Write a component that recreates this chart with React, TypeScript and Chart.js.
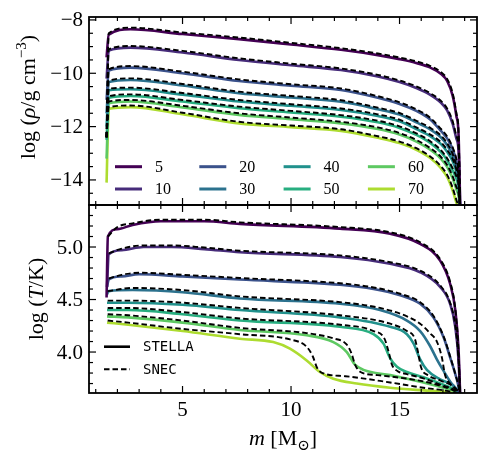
import React, { useEffect, useRef } from 'react';
import { Chart, registerables } from 'chart.js';
Chart.register(...registerables);

// ---------- data ----------
const MASSES = ['5', '10', '20', '30', '40', '50', '60', '70'];
const COLORS = ['#440154', '#472c7a', '#3b528b', '#2c728e', '#21918c', '#28ae80', '#5ec962', '#addc30'];

const X_MIN = 0.69;
const X_MAX = 18.57;
const X_TICKS = [5, 10, 15];
const X_MINOR = 1;

const RHO_MIN = -14.94;
const RHO_MAX = -7.89;
const RHO_TICKS = [-14, -12, -10, -8];
const RHO_MINOR = 0.5;

const T_MIN = 3.61;
const T_MAX = 5.4;
const T_TICKS = [4.0, 4.5, 5.0];
const T_MINOR = 0.1;

// density panel: shared mass grid
const RHO_X = [1.5, 1.6, 2.6, 5, 7.6, 10, 12.3, 14.0, 15.0, 15.8, 16.4, 16.9, 17.2, 17.45, 17.62, 17.72, 17.8];

const RHO_STELLA_5 = [-9.4, -8.55, -8.35, -8.53, -8.72, -8.92, -9.12, -9.32, -9.47, -9.62, -9.78, -10.02, -10.3, -10.85, -11.6, -12.3, -15.2];
const RHO_STELLA_10 = [-10.2, -9.15, -9.04, -9.22, -9.5, -9.7, -9.88, -10.12, -10.33, -10.56, -10.8, -11.1, -11.4, -11.9, -12.45, -12.9, -15.2];
const RHO_STELLA_20 = [-11.0, -9.9, -9.79, -10.0, -10.29, -10.47, -10.63, -10.92, -11.15, -11.42, -11.72, -12.15, -12.45, -12.85, -13.3, -13.8, -15.2];
const RHO_STELLA_30 = [-11.5, -10.33, -10.25, -10.46, -10.75, -10.91, -11.07, -11.35, -11.55, -11.85, -12.1, -12.4, -12.7, -13.1, -13.55, -14.0, -15.2];
const RHO_STELLA_40 = [-12.0, -10.64, -10.6, -10.8, -11.06, -11.22, -11.38, -11.6, -11.8, -12.1, -12.35, -12.65, -12.95, -13.3, -13.7, -14.1, -15.2];
const RHO_STELLA_50 = [-12.5, -10.92, -10.85, -11.06, -11.31, -11.47, -11.63, -11.84, -12.05, -12.32, -12.6, -12.95, -13.27, -13.65, -13.95, -14.3, -15.2];
const RHO_STELLA_60 = [-13.2, -11.12, -11.06, -11.28, -11.56, -11.72, -11.88, -12.09, -12.3, -12.57, -12.86, -13.2, -13.52, -13.95, -14.35, -14.6, -15.2];
const RHO_STELLA_70 = [-14.1, -11.33, -11.27, -11.54, -11.88, -12.02, -12.16, -12.42, -12.62, -12.88, -13.17, -13.55, -13.9, -14.4, -14.85, -15.1, -15.3];

const RHO_SNEC_5 = [-12.4, -8.5, -8.29, -8.47, -8.66, -8.86, -9.06, -9.26, -9.41, -9.56, -9.72, -9.95, -10.22, -10.75, -11.5, -12.2, -15.2];
const RHO_SNEC_10 = [-12.4, -9.1, -8.98, -9.16, -9.44, -9.64, -9.82, -10.06, -10.27, -10.5, -10.74, -11.03, -11.33, -11.8, -12.35, -12.8, -15.2];
const RHO_SNEC_20 = [-12.4, -9.85, -9.73, -9.94, -10.23, -10.41, -10.57, -10.86, -11.09, -11.36, -11.66, -12.08, -12.38, -12.78, -13.22, -13.7, -15.2];
const RHO_SNEC_30 = [-12.4, -10.28, -10.19, -10.4, -10.69, -10.85, -11.01, -11.29, -11.49, -11.79, -12.04, -12.33, -12.63, -13.03, -13.48, -13.9, -15.2];
const RHO_SNEC_40 = [-12.4, -10.58, -10.54, -10.74, -11.0, -11.16, -11.32, -11.54, -11.74, -12.04, -12.29, -12.58, -12.88, -13.22, -13.62, -14.0, -15.2];
const RHO_SNEC_50 = [-12.4, -10.86, -10.79, -11.0, -11.25, -11.41, -11.57, -11.78, -11.99, -12.26, -12.54, -12.88, -13.2, -13.57, -13.87, -14.2, -15.2];
const RHO_SNEC_60 = [-12.4, -11.06, -11.0, -11.22, -11.5, -11.66, -11.82, -12.03, -12.24, -12.51, -12.8, -13.13, -13.45, -13.87, -14.27, -14.5, -15.2];
const RHO_SNEC_70 = [-12.4, -11.27, -11.21, -11.48, -11.82, -11.96, -12.1, -12.36, -12.56, -12.82, -13.11, -13.48, -13.82, -14.3, -14.75, -15.0, -15.3];

// temperature panel: [mass, logT] pairs per model
const T_STELLA_5 = [[1.5, 4.52], [1.56, 5.1], [2.0, 5.17], [2.7, 5.21], [4.0, 5.245], [6.0, 5.245], [7.64, 5.22], [12.26, 5.175], [14.57, 5.127], [15.95, 5.03], [16.87, 4.87], [17.33, 4.65], [17.57, 4.40], [17.72, 4.02], [17.8, 3.55]];
const T_STELLA_10 = [[1.52, 4.62], [1.6, 4.93], [2.2, 4.97], [3.2, 5.0], [4.5, 5.0], [6.0, 4.98], [7.64, 4.95], [12.26, 4.905], [14.57, 4.84], [15.95, 4.76], [16.87, 4.62], [17.33, 4.46], [17.57, 4.24], [17.72, 3.92], [17.8, 3.55]];
const T_STELLA_20 = [[1.52, 4.62], [1.6, 4.69], [2.2, 4.72], [3.0, 4.74], [5.0, 4.72], [7.64, 4.69], [12.26, 4.64], [13.8, 4.60], [15.03, 4.54], [15.95, 4.46], [16.56, 4.33], [17.03, 4.14], [17.33, 3.95], [17.57, 3.79], [17.72, 3.67], [17.8, 3.55]];
const T_STELLA_30 = [[1.52, 4.55], [1.6, 4.58], [2.7, 4.59], [5.0, 4.57], [7.64, 4.51], [12.26, 4.46], [14.1, 4.40], [15.34, 4.30], [15.95, 4.2], [16.4, 4.06], [16.72, 3.93], [17.03, 3.82], [17.33, 3.72], [17.64, 3.64], [17.8, 3.58]];
const T_STELLA_40 = [[1.52, 4.47], [2.5, 4.47], [5.0, 4.45], [7.64, 4.40], [12.26, 4.33], [14.57, 4.24], [15.34, 4.17], [15.65, 4.08], [15.95, 3.93], [16.26, 3.83], [16.87, 3.74], [17.49, 3.68], [17.8, 3.6]];
const T_STELLA_50 = [[1.52, 4.40], [2.5, 4.40], [5.0, 4.36], [7.64, 4.30], [12.26, 4.24], [13.8, 4.17], [14.26, 4.08], [14.57, 3.94], [14.88, 3.86], [15.34, 3.81], [16.1, 3.76], [16.87, 3.70], [17.64, 3.63], [17.8, 3.6]];
const T_STELLA_60 = [[1.52, 4.34], [2.5, 4.33], [5.0, 4.28], [7.64, 4.21], [10.72, 4.16], [11.95, 4.095], [12.57, 4.0], [12.95, 3.88], [13.34, 3.83], [14.57, 3.78], [16.1, 3.71], [17.18, 3.65], [17.64, 3.62], [17.8, 3.6]];
const T_STELLA_70 = [[1.52, 4.28], [2.5, 4.26], [5.0, 4.20], [7.64, 4.127], [9.18, 4.095], [9.95, 4.032], [10.72, 3.92], [11.33, 3.81], [11.95, 3.746], [13.03, 3.70], [14.57, 3.66], [16.1, 3.635], [17.18, 3.62], [17.8, 3.6]];

const T_SNEC_5 = [[1.56, 5.1], [2.0, 5.19], [2.7, 5.225], [4.0, 5.26], [6.0, 5.26], [7.64, 5.235], [12.26, 5.19], [14.57, 5.14], [15.95, 5.045], [16.87, 4.885], [17.33, 4.67], [17.57, 4.41], [17.72, 4.0], [17.8, 3.55]];
const T_SNEC_10 = [[1.6, 4.94], [2.2, 4.985], [3.2, 5.015], [4.5, 5.015], [6.0, 4.995], [7.64, 4.965], [12.26, 4.92], [14.57, 4.855], [15.95, 4.775], [16.87, 4.635], [17.33, 4.47], [17.57, 4.25], [17.72, 3.92], [17.8, 3.55]];
const T_SNEC_20 = [[1.6, 4.70], [2.2, 4.735], [3.0, 4.755], [5.0, 4.735], [7.64, 4.705], [12.26, 4.655], [13.8, 4.615], [15.03, 4.555], [15.95, 4.475], [16.56, 4.345], [17.03, 4.15], [17.33, 3.96], [17.57, 3.79], [17.72, 3.67], [17.8, 3.55]];
const T_SNEC_30 = [[1.55, 4.58], [2.7, 4.61], [5.0, 4.59], [7.64, 4.53], [12.26, 4.475], [14.1, 4.42], [15.34, 4.34], [15.95, 4.27], [16.4, 4.18], [16.72, 4.1], [16.95, 3.95], [17.1, 3.78], [17.33, 3.7], [17.64, 3.64], [17.8, 3.6]];
const T_SNEC_40 = [[1.55, 4.49], [2.5, 4.49], [5.0, 4.47], [7.64, 4.42], [12.26, 4.35], [14.57, 4.27], [15.34, 4.2], [15.7, 4.13], [15.85, 4.0], [16.0, 3.85], [16.3, 3.78], [16.87, 3.73], [17.49, 3.67], [17.8, 3.6]];
const T_SNEC_50 = [[1.55, 4.42], [2.5, 4.42], [5.0, 4.38], [7.64, 4.32], [12.26, 4.26], [13.8, 4.2], [14.3, 4.13], [14.5, 4.0], [14.65, 3.88], [14.9, 3.82], [15.34, 3.79], [16.1, 3.75], [16.87, 3.69], [17.64, 3.63], [17.8, 3.6]];
const T_SNEC_60 = [[1.55, 4.36], [2.5, 4.35], [5.0, 4.30], [7.64, 4.23], [10.72, 4.18], [11.95, 4.13], [12.57, 4.07], [12.8, 3.98], [12.95, 3.88], [13.2, 3.81], [14.0, 3.78], [16.1, 3.72], [17.18, 3.66], [17.64, 3.62]];
const T_SNEC_70 = [[1.55, 4.30], [2.5, 4.28], [5.0, 4.22], [7.64, 4.17], [9.95, 4.12], [10.72, 4.05], [11.0, 3.96], [11.2, 3.85], [11.45, 3.80], [12.5, 3.77], [14.57, 3.71], [16.1, 3.66], [17.18, 3.63], [17.8, 3.6]];

const RHO_STELLA = [RHO_STELLA_5, RHO_STELLA_10, RHO_STELLA_20, RHO_STELLA_30, RHO_STELLA_40, RHO_STELLA_50, RHO_STELLA_60, RHO_STELLA_70];
const RHO_SNEC = [RHO_SNEC_5, RHO_SNEC_10, RHO_SNEC_20, RHO_SNEC_30, RHO_SNEC_40, RHO_SNEC_50, RHO_SNEC_60, RHO_SNEC_70];
const T_STELLA = [T_STELLA_5, T_STELLA_10, T_STELLA_20, T_STELLA_30, T_STELLA_40, T_STELLA_50, T_STELLA_60, T_STELLA_70];
const T_SNEC = [T_SNEC_5, T_SNEC_10, T_SNEC_20, T_SNEC_30, T_SNEC_40, T_SNEC_50, T_SNEC_60, T_SNEC_70];

// ---------- drawing helpers ----------
const SERIF = '"Liberation Serif", "DejaVu Serif", serif';
const MONO = '"DejaVu Sans Mono", "Liberation Mono", monospace';
const TICK_SIZE = 21;
const TITLE_SIZE = 22;
const DASH = [5.5, 3];
const DASH_W = 1.9;
const SOLID_W = 2.6;

type Run = { t: string; it?: boolean; sup?: boolean; sub?: boolean };

function drawRich(ctx: CanvasRenderingContext2D, runs: Run[], x: number, y: number, size: number, rotate: boolean) {
  ctx.save();
  ctx.translate(x, y);
  if (rotate) ctx.rotate(-Math.PI / 2);
  const fonts = runs.map(r => `${r.it ? 'italic ' : ''}${r.sup || r.sub ? Math.round(size * 0.7) : size}px ${SERIF}`);
  let total = 0;
  const widths = runs.map((r, i) => {
    ctx.font = fonts[i];
    const w = ctx.measureText(r.t).width;
    total += w;
    return w;
  });
  let cx = -total / 2;
  ctx.textAlign = 'left';
  ctx.textBaseline = 'alphabetic';
  ctx.fillStyle = '#000';
  const base = size * 0.33;
  runs.forEach((r, i) => {
    ctx.font = fonts[i];
    const dy = r.sup ? -size * 0.42 : r.sub ? size * 0.2 : 0;
    ctx.fillText(r.t, cx, base + dy);
    cx += widths[i];
  });
  ctx.restore();
}

function fmtRho(v: number) {
  return v < 0 ? '\u2212' + Math.abs(v).toString() : v.toString();
}

type FrameCfg = {
  yTicks: number[];
  yMinor: number;
  yFmt: (v: number) => string;
  xLabels: boolean;
  yTitle: Run[];
  yTitleX: number;
  yTitleY: number;
  extra?: (ctx: CanvasRenderingContext2D, chart: any) => void;
};

function framePlugin(cfg: FrameCfg) {
  return {
    id: 'frame',
    afterDraw(chart: any) {
      const ctx: CanvasRenderingContext2D = chart.ctx;
      const a = chart.chartArea;
      const xs = chart.scales.x;
      const ys = chart.scales.y;
      ctx.save();
      ctx.strokeStyle = '#000';
      ctx.lineWidth = 1.2;
      const seg = (x1: number, y1: number, x2: number, y2: number) => {
        ctx.beginPath();
        ctx.moveTo(x1, y1);
        ctx.lineTo(x2, y2);
        ctx.stroke();
      };
      for (let k = Math.ceil(xs.min / X_MINOR); k * X_MINOR <= xs.max; k++) {
        const v = k * X_MINOR;
        const major = X_TICKS.some(t => Math.abs(t - v) < 1e-6);
        const len = major ? 7 : 4;
        const p = xs.getPixelForValue(v);
        seg(p, a.bottom, p, a.bottom - len);
        seg(p, a.top, p, a.top + len);
      }
      for (let k = Math.ceil(ys.min / cfg.yMinor - 1e-9); k * cfg.yMinor <= ys.max + 1e-9; k++) {
        const v = k * cfg.yMinor;
        const major = cfg.yTicks.some(t => Math.abs(t - v) < 1e-6);
        const len = major ? 7 : 4;
        const p = ys.getPixelForValue(v);
        seg(a.left, p, a.left + len, p);
        seg(a.right, p, a.right - len, p);
      }
      ctx.lineWidth = 1.8;
      ctx.strokeRect(a.left, a.top, a.right - a.left, a.bottom - a.top);
      ctx.fillStyle = '#000';
      ctx.font = `${TICK_SIZE}px ${SERIF}`;
      ctx.textAlign = 'right';
      ctx.textBaseline = 'middle';
      cfg.yTicks.forEach(t => {
        ctx.fillText(cfg.yFmt(t), a.left - 6, ys.getPixelForValue(t) + 1);
      });
      if (cfg.xLabels) {
        ctx.textAlign = 'center';
        X_TICKS.forEach(t => {
          ctx.fillText(String(t), xs.getPixelForValue(t), a.bottom + 17);
        });
        drawRich(ctx, [{ t: 'm', it: true }, { t: ' [M' }, { t: '\u2299', sub: true }, { t: ']' }], (a.left + a.right) / 2, a.bottom + 45, TITLE_SIZE, false);
      }
      drawRich(ctx, cfg.yTitle, cfg.yTitleX, cfg.yTitleY, TITLE_SIZE, true);
      if (cfg.extra) cfg.extra(ctx, chart);
      ctx.restore();
    },
  };
}

function baseOptions(yMin: number, yMax: number, padding: any) {
  return {
    animation: false as const,
    responsive: false,
    maintainAspectRatio: false,
    events: [] as any[],
    layout: { padding },
    plugins: { legend: { display: false }, tooltip: { enabled: false } },
    scales: {
      x: { type: 'linear' as const, min: X_MIN, max: X_MAX, display: false },
      y: { type: 'linear' as const, min: yMin, max: yMax, display: false },
    },
  };
}

function lineDs(points: { x: number; y: number }[], color: string, dashed: boolean) {
  return {
    data: points,
    borderColor: color,
    borderWidth: dashed ? DASH_W : SOLID_W,
    borderDash: dashed ? DASH : [],
    pointRadius: 0,
    fill: false,
    cubicInterpolationMode: 'monotone' as const,
    order: dashed ? 0 : 1,
  };
}

export default function App() {
  const topRef = useRef<HTMLCanvasElement>(null);
  const botRef = useRef<HTMLCanvasElement>(null);

  useEffect(() => {
    const topDatasets: any[] = [];
    MASSES.forEach((m, i) => {
      topDatasets.push(lineDs(RHO_X.map((x, j) => ({ x, y: RHO_STELLA[i][j] })), COLORS[i], false));
    });
    MASSES.forEach((m, i) => {
      topDatasets.push(lineDs(RHO_X.map((x, j) => ({ x, y: RHO_SNEC[i][j] })), '#000', true));
    });
    const botDatasets: any[] = [];
    MASSES.forEach((m, i) => {
      botDatasets.push(lineDs(T_STELLA[i].map(p => ({ x: p[0], y: p[1] })), COLORS[i], false));
    });
    MASSES.forEach((m, i) => {
      botDatasets.push(lineDs(T_SNEC[i].map(p => ({ x: p[0], y: p[1] })), '#000', true));
    });

    const topLegend = (ctx: CanvasRenderingContext2D) => {
      ctx.save();
      ctx.font = `16px ${SERIF}`;
      ctx.textAlign = 'left';
      ctx.textBaseline = 'middle';
      MASSES.forEach((m, k) => {
        const col = Math.floor(k / 2);
        const row = k % 2;
        const x0 = 115 + col * 84.3;
        const y0 = 166.7 + row * 22.3;
        ctx.strokeStyle = COLORS[k];
        ctx.lineWidth = 3;
        ctx.setLineDash([]);
        ctx.beginPath();
        ctx.moveTo(x0, y0);
        ctx.lineTo(x0 + 27, y0);
        ctx.stroke();
        ctx.fillStyle = '#000';
        ctx.fillText(m, x0 + 40, y0 + 1);
      });
      ctx.restore();
    };

    const botLegend = (ctx: CanvasRenderingContext2D) => {
      ctx.save();
      ctx.font = `14px ${MONO}`;
      ctx.textAlign = 'left';
      ctx.textBaseline = 'middle';
      const items = [
        { label: 'STELLA', dash: [] as number[], w: SOLID_W },
        { label: 'SNEC', dash: DASH, w: DASH_W },
      ];
      items.forEach((it, k) => {
        const y0 = 151.7 + k * 22.6;
        ctx.strokeStyle = '#000';
        ctx.lineWidth = it.w;
        ctx.setLineDash(it.dash);
        ctx.beginPath();
        ctx.moveTo(104, y0);
        ctx.lineTo(130, y0);
        ctx.stroke();
        ctx.fillStyle = '#000';
        ctx.fillText(it.label, 143, y0 + 1);
      });
      ctx.restore();
    };

    const top = new Chart(topRef.current as HTMLCanvasElement, {
      type: 'line',
      data: { datasets: topDatasets },
      options: baseOptions(RHO_MIN, RHO_MAX, { left: 89, right: 15, top: 17, bottom: 10 }) as any,
      plugins: [
        framePlugin({
          yTicks: RHO_TICKS,
          yMinor: RHO_MINOR,
          yFmt: fmtRho,
          xLabels: false,
          yTitle: [{ t: 'log (' }, { t: '\u03C1', it: true }, { t: '/g cm' }, { t: '\u22123', sup: true }, { t: ')' }],
          yTitleX: 28,
          yTitleY: 97,
          extra: topLegend,
        }),
      ],
    });

    const bot = new Chart(botRef.current as HTMLCanvasElement, {
      type: 'line',
      data: { datasets: botDatasets },
      options: baseOptions(T_MIN, T_MAX, { left: 89, right: 15, top: 10, bottom: 71 }) as any,
      plugins: [
        framePlugin({
          yTicks: T_TICKS,
          yMinor: T_MINOR,
          yFmt: (v: number) => v.toFixed(1),
          xLabels: true,
          yTitle: [{ t: 'log (' }, { t: 'T', it: true }, { t: '/K)' }],
          yTitleX: 36,
          yTitleY: 104,
          extra: botLegend,
        }),
      ],
    });

    return () => {
      top.destroy();
      bot.destroy();
    };
  }, []);

  return (
    <div style={{ position: 'fixed', left: 0, top: 0, width: 492, height: 464, background: '#fff', overflow: 'hidden' }}>
      <canvas ref={topRef} width={492} height={215} style={{ position: 'absolute', left: 0, top: 0, width: 492, height: 215 }} />
      <canvas ref={botRef} width={492} height={269} style={{ position: 'absolute', left: 0, top: 195, width: 492, height: 269 }} />
    </div>
  );
}
